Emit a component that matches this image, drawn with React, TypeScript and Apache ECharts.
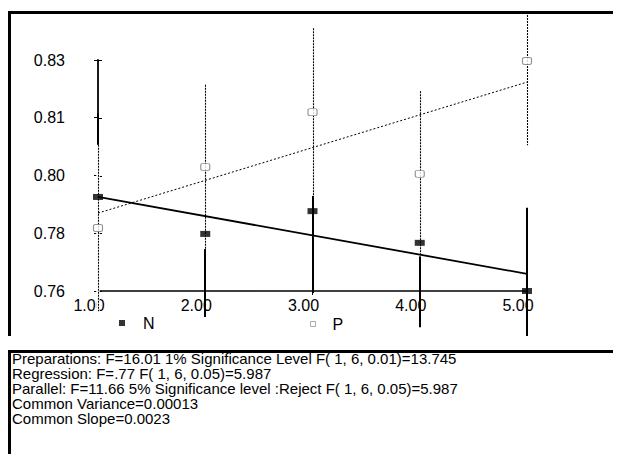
import React, { useEffect, useRef } from 'react';
import * as echarts from 'echarts';

const X_VALUES = [1, 2, 3, 4, 5];
const X_TICK_LABELS = ['1.00', '2.00', '3.00', '4.00', '5.00'];
const Y_TICK_VALUES = [0.76, 0.7775, 0.795, 0.8125, 0.83];
const Y_TICK_LABELS = ['0.76', '0.78', '0.80', '0.81', '0.83'];

const N_MEANS = [0.7885, 0.7773, 0.7842, 0.7746, 0.76];
const P_MEANS = [0.7791, 0.7976, 0.8142, 0.7955, 0.8297];
const N_ERR = [0.0252, 0.0252, 0.0248, 0.0256, 0.0252];
const P_ERR = [0.0252, 0.0249, 0.0254, 0.025, 0.0255];
// fitted regression values at x = 1 and x = 5
const FIT_X = [1, 5];
const N_FIT = [0.7885, 0.7652];
const P_FIT = [0.7836, 0.8233];

const LEGEND_NAMES = ['N', 'P'];

const STATS_LINES = [
  'Preparations: F=16.01 1% Significance Level F( 1, 6, 0.01)=13.745',
  'Regression: F=.77 F( 1, 6, 0.05)=5.987',
  'Parallel: F=11.66 5% Significance level :Reject F( 1, 6, 0.05)=5.987',
  'Common Variance=0.00013',
  'Common Slope=0.0023',
];

const FONT = '"Liberation Sans", Arial, sans-serif';
const PANEL_TOP = 15;
const PANEL_BOTTOM = 336;
const X_MIN = 1;
const Y_MIN = 0.76;

function clampY(y: number) {
  return Math.min(PANEL_BOTTOM, Math.max(PANEL_TOP, y));
}

export default function App() {
  const ref = useRef<HTMLDivElement>(null);

  useEffect(() => {
    document.body.style.margin = '0';
    if (!ref.current) return;
    const chart = echarts.init(ref.current, undefined, { renderer: 'svg' });

    const nData = X_VALUES.map((x, i) => [x, N_MEANS[i], N_ERR[i]]);
    const pData = X_VALUES.map((x, i) => [x, P_MEANS[i], P_ERR[i]]);

    const yLabelFmt = (v: number) => {
      let best = 0;
      let bd = Infinity;
      Y_TICK_VALUES.forEach((t, i) => {
        const d = Math.abs(t - v);
        if (d < bd) {
          bd = d;
          best = i;
        }
      });
      return bd < 1e-6 ? Y_TICK_LABELS[best] : '';
    };
    const xLabelFmt = (v: number) => {
      const i = X_VALUES.indexOf(Math.round(v));
      return i >= 0 ? X_TICK_LABELS[i] : '';
    };

    // inner halves of the crossing axis ticks
    const innerTicks = [
      ...Y_TICK_VALUES.map((v) => [X_MIN, v, 0]),
      ...X_VALUES.map((v) => [v, Y_MIN, 1]),
    ];

    const option: any = {
      animation: false,
      backgroundColor: '#fff',
      grid: {
        left: 98,
        right: 99,
        top: 60,
        bottom: 163,
        containLabel: false,
      },
      xAxis: {
        type: 'value',
        min: 1,
        max: 5,
        interval: 1,
        splitLine: { show: false },
        axisLine: { show: true, lineStyle: { color: '#000', width: 1.6 } },
        axisTick: { show: true, inside: false, length: 4, lineStyle: { color: '#000', width: 1 } },
        axisLabel: {
          show: true,
          formatter: xLabelFmt,
          color: '#000',
          fontFamily: FONT,
          fontSize: 16,
          margin: 6,
          padding: [0, 18, 0, 0],
        },
      },
      yAxis: {
        type: 'value',
        min: 0.76,
        max: 0.83,
        splitLine: { show: false },
        axisLine: { show: true, lineStyle: { color: '#000', width: 1.8 } },
        axisTick: {
          show: true,
          inside: false,
          length: 4,
          customValues: Y_TICK_VALUES,
          lineStyle: { color: '#000', width: 1 },
        },
        axisLabel: {
          show: true,
          customValues: Y_TICK_VALUES,
          formatter: yLabelFmt,
          color: '#000',
          fontFamily: FONT,
          fontSize: 16,
          margin: 33,
        },
      },
      legend: [
        {
          data: [LEGEND_NAMES[0]],
          left: 119,
          top: 315,
          padding: 0,
          itemWidth: 6,
          itemHeight: 6,
          icon: 'rect',
          selectedMode: false,
          itemStyle: { color: '#000', borderWidth: 0 },
          textStyle: { color: '#000', fontFamily: FONT, fontSize: 16, padding: [0, 0, 0, 13] },
        },
        {
          data: [LEGEND_NAMES[1]],
          left: 310,
          top: 316,
          padding: 0,
          itemWidth: 5,
          itemHeight: 5,
          icon: 'rect',
          selectedMode: false,
          itemStyle: { color: '#fff', borderColor: '#999', borderWidth: 1 },
          textStyle: { color: '#000', fontFamily: FONT, fontSize: 16, padding: [0, 0, 0, 12] },
        },
      ],
      series: [
        {
          type: 'custom',
          name: 'inner ticks',
          z: 1,
          clip: false,
          data: innerTicks,
          renderItem: (params: any, api: any) => {
            const p = api.coord([api.value(0), api.value(1)]);
            const horiz = api.value(2) === 0;
            const x = Math.round(p[0]);
            const y = Math.round(p[1]);
            return {
              type: 'line',
              shape: horiz
                ? { x1: x, y1: y + 0.5, x2: x + 4, y2: y + 0.5 }
                : { x1: x + 0.5, y1: y, x2: x + 0.5, y2: y - 5 },
              style: { stroke: '#000', lineWidth: 1 },
            };
          },
        },
        {
          type: 'custom',
          name: 'N bars',
          z: 3,
          clip: false,
          data: nData,
          renderItem: (params: any, api: any) => {
            const x = api.value(0);
            const y = api.value(1);
            const e = api.value(2);
            const top = api.coord([x, y + e]);
            const bot = api.coord([x, y - e]);
            const px = Math.round(top[0]);
            return {
              type: 'line',
              shape: { x1: px, y1: clampY(top[1]), x2: px, y2: clampY(bot[1]) },
              style: { stroke: '#000', lineWidth: 2 },
            };
          },
        },
        {
          type: 'custom',
          name: 'P bars',
          z: 4,
          clip: false,
          data: pData,
          renderItem: (params: any, api: any) => {
            const x = api.value(0);
            const y = api.value(1);
            const e = api.value(2);
            const top = api.coord([x, y + e]);
            const bot = api.coord([x, y - e]);
            const px = Math.round(top[0]);
            const y1 = clampY(top[1]);
            const y2 = clampY(bot[1]);
            return {
              type: 'group',
              children: [
                {
                  type: 'line',
                  shape: { x1: px, y1, x2: px, y2 },
                  style: { stroke: '#fff', lineWidth: 3.5 },
                },
                {
                  type: 'line',
                  shape: { x1: px + 0.5, y1, x2: px + 0.5, y2 },
                  style: { stroke: '#000', lineWidth: 1.1, lineDash: [2, 1] },
                },
              ],
            };
          },
        },
        {
          type: 'line',
          name: 'N fit',
          z: 5,
          data: FIT_X.map((x, i) => [x, N_FIT[i]]),
          showSymbol: false,
          symbol: 'none',
          lineStyle: { color: '#000', width: 1.8 },
        },
        {
          type: 'line',
          name: 'P fit',
          z: 5,
          data: FIT_X.map((x, i) => [x, P_FIT[i]]),
          showSymbol: false,
          symbol: 'none',
          lineStyle: { color: '#000', width: 1, type: [2, 2] },
        },
        {
          type: 'scatter',
          name: 'N',
          z: 6,
          clip: false,
          symbol: 'rect',
          symbolSize: [10, 6],
          data: X_VALUES.map((x, i) => [x, N_MEANS[i]]),
          itemStyle: { color: '#000' },
        },
        {
          type: 'scatter',
          name: 'P',
          z: 6,
          clip: false,
          symbol: 'roundRect',
          symbolSize: [9, 7],
          data: X_VALUES.map((x, i) => [x, P_MEANS[i]]),
          itemStyle: { color: '#fff', borderColor: '#777', borderWidth: 1 },
        },
      ],
      graphic: [
        { type: 'rect', shape: { x: 8, y: 11, width: 605, height: 3 }, style: { fill: '#000' }, z: 10 },
        { type: 'rect', shape: { x: 8, y: 11, width: 3, height: 325 }, style: { fill: '#000' }, z: 10 },
        { type: 'rect', shape: { x: 8, y: 350, width: 605, height: 3 }, style: { fill: '#000' }, z: 10 },
        { type: 'rect', shape: { x: 8, y: 350, width: 3, height: 104 }, style: { fill: '#000' }, z: 10 },
        ...STATS_LINES.map((line, i) => ({
          type: 'text',
          x: 12,
          y: 351 + i * 15,
          z: 10,
          style: {
            text: line,
            font: '15px ' + FONT,
            fill: '#000',
            textVerticalAlign: 'top',
          },
        })),
      ],
    };

    chart.setOption(option);
    return () => {
      chart.dispose();
    };
  }, []);

  return <div ref={ref} style={{ width: 626, height: 454 }} />;
}
